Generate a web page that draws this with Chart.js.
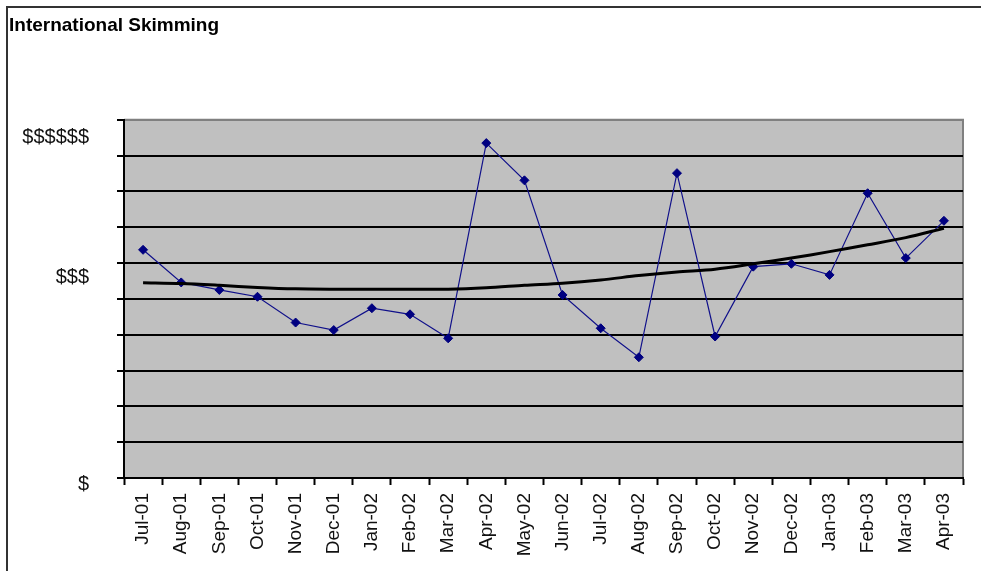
<!DOCTYPE html>
<html>
<head>
<meta charset="utf-8">
<script src="https://cdn.jsdelivr.net/npm/chart.js@4"></script>
<style>
  html, body { margin: 0; padding: 0; background: #fff; }
  #wrap { position: relative; width: 981px; height: 571px; overflow: hidden; }
  canvas { position: absolute; left: 0; top: 0; }
  .bt { position: absolute; left: 6px; top: 6px; width: 975px; height: 2px; background: #333; }
  .bl { position: absolute; left: 6px; top: 6px; width: 2px; height: 565px; background: #333; }
</style>
</head>
<body>
<div id="wrap">
  <canvas id="c" width="981" height="571"></canvas>
  <div class="bt"></div>
  <div class="bl"></div>
</div>
<script>
const chartTitle = 'International Skimming';
const months = ['Jul-01','Aug-01','Sep-01','Oct-01','Nov-01','Dec-01','Jan-02','Feb-02','Mar-02','Apr-02','May-02','Jun-02','Jul-02','Aug-02','Sep-02','Oct-02','Nov-02','Dec-02','Jan-03','Feb-03','Mar-03','Apr-03'];
const skimming = [6.37, 5.46, 5.25, 5.06, 4.34, 4.13, 4.74, 4.57, 3.90, 9.35, 8.31, 5.11, 4.18, 3.37, 8.51, 3.95, 5.90, 5.98, 5.67, 7.95, 6.14, 7.18];
const trend = [5.45, 5.43, 5.38, 5.32, 5.28, 5.27, 5.27, 5.27, 5.27, 5.31, 5.38, 5.44, 5.53, 5.65, 5.75, 5.83, 5.98, 6.14, 6.32, 6.51, 6.71, 6.97];
const yMin = 0, yMax = 10, yStep = 1;
const yLabelValues = [-0.17, 5.6, 9.51];
const yLabelTexts = ['$', '$$$', '$$$$$$'];

const FONT = "'Liberation Sans', Arial, sans-serif";

const plotBg = {
  id: 'plotBg',
  beforeDraw(chart) {
    const a = chart.chartArea, ctx = chart.ctx;
    ctx.save();
    ctx.fillStyle = '#c0c0c0';
    ctx.fillRect(a.left, a.top, a.right - a.left, a.bottom - a.top);
    ctx.strokeStyle = '#808080';
    ctx.lineWidth = 2;
    ctx.beginPath();
    ctx.moveTo(a.left, a.top);
    ctx.lineTo(a.right, a.top);
    ctx.lineTo(a.right, a.bottom);
    ctx.stroke();
    ctx.restore();
  }
};

new Chart(document.getElementById('c'), {
  type: 'line',
  data: {
    labels: months,
    datasets: [
      {
        label: 'Trend',
        data: trend,
        borderColor: '#000000',
        borderWidth: 3,
        pointRadius: 0,
        tension: 0.3,
        order: 0
      },
      {
        label: 'International Skimming',
        data: skimming,
        borderColor: '#10108a',
        backgroundColor: '#000080',
        borderWidth: 1.2,
        pointStyle: 'rectRot',
        pointRadius: 4.5,
        pointBorderColor: '#000080',
        pointBorderWidth: 1,
        tension: 0,
        order: 1
      }
    ]
  },
  options: {
    responsive: false,
    animation: false,
    events: [],
    layout: { padding: { left: 9, right: 18, top: 0, bottom: 0 } },
    plugins: {
      legend: { display: false },
      tooltip: { enabled: false },
      title: {
        display: true,
        text: chartTitle,
        align: 'start',
        color: '#000',
        font: { family: FONT, size: 19, weight: 'bold' },
        padding: { top: 14, bottom: 83 }
      }
    },
    scales: {
      x: {
        type: 'category',
        position: 'bottom',
        offset: true,
        grid: {
          display: true,
          offset: true,
          drawOnChartArea: false,
          drawTicks: true,
          tickLength: 7,
          tickColor: '#000',
          tickWidth: 2
        },
        border: { display: true, color: '#000', width: 2 },
        ticks: {
          minRotation: 90,
          maxRotation: 90,
          autoSkip: false,
          padding: 8,
          color: '#111',
          font: { family: FONT, size: 19 }
        },
        afterFit(scale) { scale.height = 93; }
      },
      y: {
        type: 'linear',
        position: 'left',
        weight: 0,
        min: yMin,
        max: yMax,
        ticks: { stepSize: yStep, display: false },
        grid: {
          display: true,
          drawTicks: true,
          tickLength: 7,
          tickColor: '#000',
          tickWidth: 2,
          lineWidth: 2,
          color: (ctx) => {
            const v = ctx.tick ? ctx.tick.value : null;
            if (v === yMax) return '#808080';
            return '#000';
          }
        },
        border: { display: true, color: '#000', width: 2 },
        afterFit(scale) { scale.width = 9; }
      },
      y2: {
        type: 'linear',
        position: 'left',
        weight: 1,
        min: yMin,
        max: yMax,
        grid: { display: false, drawTicks: false },
        border: { display: false },
        afterBuildTicks(scale) {
          scale.ticks = yLabelValues.map(v => ({ value: v }));
        },
        ticks: {
          autoSkip: false,
          padding: 26,
          color: '#111',
          font: { family: FONT, size: 20 },
          callback: (value, index) => yLabelTexts[index]
        },
        afterFit(scale) { scale.width = 106; }
      }
    }
  },
  plugins: [plotBg]
});
</script>
</body>
</html>
